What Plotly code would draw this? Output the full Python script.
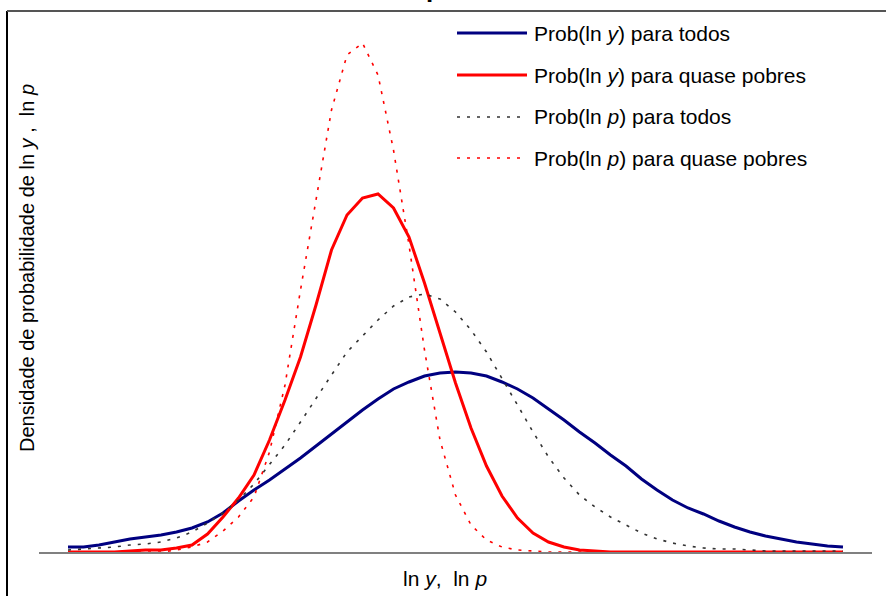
import plotly.graph_objects as go

# ---------------- data ----------------
# common grid of ln values (arbitrary units, no ticks shown)
ln_grid = [round(i * 0.2, 1) for i in range(51)]

# densities (arbitrary units x 1e-3)
prob_lny_todos = [5, 5, 7, 10, 13, 15, 17, 20, 24, 30, 39, 51, 62, 72, 83, 94, 106, 118, 130, 142,
                  153, 163, 170, 176, 179, 180, 179, 176, 170, 163, 154, 143, 132, 120, 109, 97, 86, 73, 62, 52,
                  44, 38, 31, 25, 20, 16, 13, 10, 8, 6, 5]
prob_lny_quase = [0, 0, 0, 0, 1, 2, 2, 4, 7, 18, 35, 54, 77, 112, 152, 195, 247, 302, 337, 354,
                  358, 344, 315, 269, 219, 169, 124, 86, 56, 34, 19, 10, 5, 2, 1, 0, 0, 0, 0, 0,
                  0, 0, 0, 0, 0, 0, 0, 0, 0, 0, 0]
prob_lnp_todos = [2, 3, 4, 5, 7, 8, 10, 14, 20, 29, 39, 52, 68, 87, 107, 130, 154, 177, 200, 216,
                  232, 246, 255, 258, 253, 240, 222, 200, 174, 147, 120, 95, 74, 57, 45, 35, 27, 19, 13, 9,
                  6, 4, 3, 3, 2, 1, 1, 1, 1, 1, 1]
prob_lnp_quase = [0, 0, 0, 0, 0, 0, 0, 2, 5, 10, 21, 35, 55, 100, 167, 262, 352, 442, 497, 509,
                  477, 402, 307, 202, 112, 57, 27, 12, 5, 2, 1, 0, 0, 0, 0, 0, 0, 0, 0, 0,
                  0, 0, 0, 0, 0, 0, 0, 0, 0, 0, 0]

legend_labels = [
    "Prob(ln <i>y</i>) para todos",
    "Prob(ln <i>y</i>) para quase pobres",
    "Prob(ln <i>p</i>) para todos",
    "Prob(ln <i>p</i>) para quase pobres",
]
x_title = "ln <i>y</i>,  ln <i>p</i>"
y_title = "Densidade de probabilidade de ln <i>y</i> ,  ln <i>p</i>"

# ---------------- styling ----------------
W, H = 886, 596
ML, MR, MT, MB = 39, 14, 20, 44
PW, PH = W - ML - MR, H - MT - MB
FONT = "Liberation Sans, Arial, sans-serif"

BLUE = "#000080"
RED = "#FF0000"
DARK = "#333333"

styles = [
    dict(color=BLUE, width=3, dash="solid"),
    dict(color=RED, width=3, dash="solid"),
    dict(color=DARK, width=1.6, dash="3px,7px"),
    dict(color=RED, width=1.6, dash="3px,7px"),
]
series = [prob_lny_todos, prob_lny_quase, prob_lnp_todos, prob_lnp_quase]


def px_to_paper(px, py):
    return (px - ML) / PW, (H - MB - py) / PH


fig = go.Figure()
draw_order = [0, 1, 3, 2]
for k in draw_order:
    fig.add_trace(go.Scatter(x=ln_grid, y=series[k], mode="lines", line=styles[k],
                             name=legend_labels[k], showlegend=False, hoverinfo="skip"))

shapes = []
annotations = []

# manual legend (long line samples like the original)
leg_rows_py = [33, 75, 117, 158]
for k, py in enumerate(leg_rows_py):
    x0, y0 = px_to_paper(457, py)
    x1, _ = px_to_paper(527, py)
    shapes.append(dict(type="line", xref="paper", yref="paper", x0=x0, x1=x1, y0=y0, y1=y0,
                       line=dict(color=styles[k]["color"], width=styles[k]["width"],
                                 dash=styles[k]["dash"])))
    tx, ty = px_to_paper(532, py)
    annotations.append(dict(text=legend_labels[k], xref="paper", yref="paper", x=tx, y=ty,
                            xanchor="left", yanchor="middle", showarrow=False,
                            font=dict(family=FONT, size=21, color="black")))

# frame (left and top borders of the outer chart box)
fx0, fy_top = px_to_paper(7, 11)
shapes.append(dict(type="line", xref="paper", yref="paper", x0=fx0, x1=fx0, y0=-0.3, y1=fy_top,
                   line=dict(color="black", width=2)))
shapes.append(dict(type="line", xref="paper", yref="paper", x0=fx0, x1=1.2, y0=fy_top, y1=fy_top,
                   line=dict(color="#555555", width=2)))

# axis titles
ax, ay = px_to_paper(445, 578)
annotations.append(dict(text=x_title, xref="paper", yref="paper", x=ax, y=ay,
                        xanchor="center", yanchor="middle", showarrow=False,
                        font=dict(family=FONT, size=21, color="black")))
lx, ly = px_to_paper(27, 268)
annotations.append(dict(text=y_title, xref="paper", yref="paper", x=lx, y=ly, textangle=-90,
                        xanchor="center", yanchor="middle", showarrow=False,
                        font=dict(family=FONT, size=20, color="black")))

# cut-off chart title (only a descender remains visible at the top edge)
tx, ty = px_to_paper(424, 5)
annotations.append(dict(text="<b>p</b>", xref="paper", yref="paper", x=tx, y=ty,
                        xanchor="left", yanchor="bottom", showarrow=False,
                        font=dict(family=FONT, size=26, color="black")))

x_lo = ln_grid[0] - (68 - ML) / 77.5
x_hi = ln_grid[-1] + (W - MR - 843) / 77.5

fig.update_layout(
    width=W, height=H,
    margin=dict(l=ML, r=MR, t=MT, b=MB, pad=0),
    paper_bgcolor="white", plot_bgcolor="white",
    showlegend=False,
    shapes=shapes, annotations=annotations,
    xaxis=dict(range=[x_lo, x_hi], showline=True, linecolor="#808080", linewidth=2,
               showticklabels=False, ticks="", showgrid=False, zeroline=False),
    yaxis=dict(range=[0, PH], visible=False, showgrid=False, zeroline=False),
)

fig.write_html("out.html", config={"displayModeBar": False, "staticPlot": True},
               post_script="document.body.style.margin='0';document.body.style.overflow='hidden';")
